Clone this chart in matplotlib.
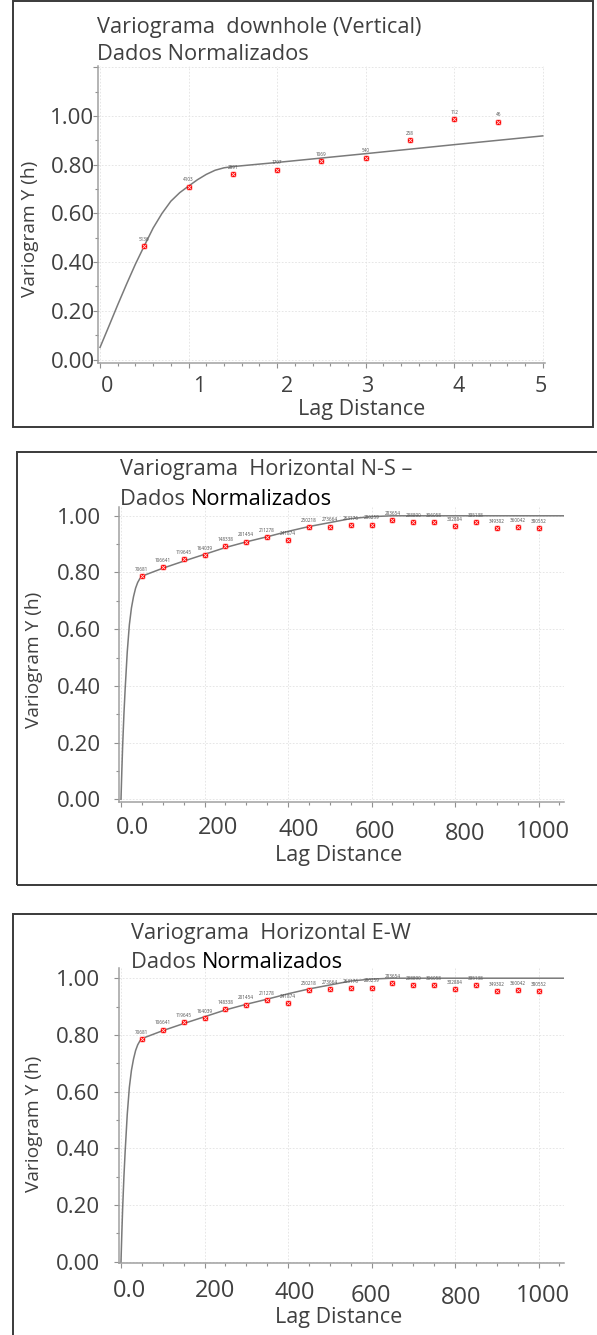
import numpy as np
import matplotlib
matplotlib.use("Agg")
import matplotlib.pyplot as plt
from matplotlib.patches import Rectangle
from matplotlib.ticker import MultipleLocator, FixedLocator
from matplotlib.transforms import ScaledTranslation

plt.rcParams['font.family'] = ['Open Sans', 'DejaVu Sans']

W, H, DPI = 597, 1335, 100
TXT = '#404040'

# ---------------- data ----------------
# downhole (vertical) experimental variogram
v_lag = [0.5, 1.0, 1.5, 2.0, 2.5, 3.0, 3.5, 4.0, 4.5]
v_gamma = [0.467, 0.710, 0.762, 0.780, 0.813, 0.829, 0.900, 0.988, 0.977]
v_pairs = ["5136", "4103", "2891", "1797", "1069", "540", "258", "112", "46"]
# downhole model curve
v_model_lag = [0.0, 0.1, 0.2, 0.3, 0.4, 0.5, 0.6, 0.7, 0.8, 0.9, 1.0, 1.1,
               1.2, 1.3, 1.4, 1.5, 2.0, 3.0, 4.0, 5.0]
v_model_gamma = [0.05, 0.137, 0.225, 0.31, 0.392, 0.467, 0.54, 0.60, 0.65,
                 0.685, 0.712, 0.738, 0.76, 0.777, 0.787, 0.792, 0.809,
                 0.845, 0.882, 0.918]

# horizontal experimental variograms (N-S and E-W)
h_lag = [50, 100, 150, 200, 250, 300, 350, 400, 450, 500,
         550, 600, 650, 700, 750, 800, 850, 900, 950, 1000]
ns_gamma = [0.788, 0.819, 0.846, 0.861, 0.893, 0.909, 0.924, 0.914, 0.960, 0.962,
            0.967, 0.969, 0.984, 0.978, 0.979, 0.965, 0.978, 0.958, 0.961, 0.956]
ew_gamma = [0.786, 0.819, 0.844, 0.860, 0.892, 0.907, 0.922, 0.913, 0.959, 0.961,
            0.966, 0.967, 0.982, 0.975, 0.976, 0.962, 0.975, 0.956, 0.959, 0.955]
h_pairs = ["70681", "106641", "119645", "164039", "148338", "201454", "211278",
           "241874", "250218", "273664", "263176", "280259", "283654", "298890",
           "306058", "332884", "335138", "349302", "360042", "380552"]
# horizontal model curve
h_model_lag = [0, 2, 4, 7, 10, 15, 20, 25, 30, 35, 40, 45, 50, 100, 150, 200,
               250, 300, 350, 400, 450, 500, 550, 600, 650, 1060]
h_model_gamma = [0.0, 0.10, 0.19, 0.30, 0.39, 0.52, 0.615, 0.675, 0.715, 0.745,
                 0.765, 0.778, 0.787, 0.815, 0.84, 0.864, 0.888, 0.908, 0.926,
                 0.945, 0.962, 0.976, 0.99, 0.997, 1.0, 1.0]

v_xticks = [0, 1, 2, 3, 4, 5]
v_xticklabels = ["0", "1", "2", "3", "4", "5"]
h_xticks = [0, 200, 400, 600, 800, 1000]
h_xticklabels = ["0.0", "200", "400", "600", "800", "1000"]
v_yticks = [0.0, 0.2, 0.4, 0.6, 0.8, 1.0, 1.2]
v_yticklabels = ["0.00", "0.20", "0.40", "0.60", "0.80", "1.00", ""]
h_yticks = [0.0, 0.2, 0.4, 0.6, 0.8, 1.0]
h_yticklabels = ["0.00", "0.20", "0.40", "0.60", "0.80", "1.00"]


def rect(left, top, right, bottom):
    return [left / W, 1 - bottom / H, (right - left) / W, (bottom - top) / H]


fig = plt.figure(figsize=(W / DPI, H / DPI), dpi=DPI)
fig.patch.set_facecolor('white')


def panel(box, axrect, xlim, ylim, xticks, xtl, xminor, yticks, ytl,
          lag, gamma, pairs, mlag, mgamma, ypad, xpad, xoffs, yfs, xfs):
    # outer frame
    fig.add_artist(Rectangle((box[0] / W, 1 - box[3] / H),
                             (box[2] - box[0]) / W, (box[3] - box[1]) / H,
                             transform=fig.transFigure, fill=False,
                             ec='#3a3a3a', lw=1.4))
    ax = fig.add_axes(rect(*axrect))
    ax.set_xlim(*xlim)
    ax.set_ylim(*ylim)
    for s in ['top', 'right']:
        ax.spines[s].set_visible(False)
    for s in ['left', 'bottom']:
        ax.spines[s].set_color('#a0a0a0')
        ax.spines[s].set_linewidth(1.1)
    ax.xaxis.set_major_locator(FixedLocator(xticks))
    ax.set_xticklabels(xtl)
    ax.xaxis.set_minor_locator(MultipleLocator(xminor))
    ax.yaxis.set_major_locator(FixedLocator(yticks))
    ax.set_yticklabels(ytl)
    ax.yaxis.set_minor_locator(MultipleLocator(0.1))
    ax.tick_params(which='both', direction='out', color='#909090', width=0.8)
    ax.tick_params(which='major', length=3.5)
    ax.tick_params(which='minor', length=2.2)
    ax.tick_params(axis='y', pad=ypad, labelsize=yfs, labelcolor=TXT)
    ax.tick_params(axis='x', pad=xpad, labelsize=xfs, labelcolor=TXT)
    ax.grid(True, which='major', color='#e2e2e2', ls=(0, (2, 2)), lw=0.6)
    ax.set_axisbelow(True)

    ax.plot(mlag, mgamma, color='#7a7a7a', lw=1.1, zorder=3)
    ax.plot(lag, gamma, ls='', marker='s', ms=3.5, mfc='red', mec='red',
            zorder=4)
    ax.plot(lag, gamma, ls='', marker='x', ms=2.3, mec='#ffd0d0', mew=0.6,
            zorder=5)
    for x, y, t in zip(lag, gamma, pairs):
        ax.annotate(t, (x, y), xytext=(0, 3), textcoords='offset points',
                    ha='center', va='bottom', fontsize=3.3, color='#505050',
                    zorder=6)
    for lbl, (dx, dy) in zip(ax.get_xticklabels(), xoffs):
        lbl.set_transform(lbl.get_transform() +
                          ScaledTranslation(dx / DPI, -dy / DPI,
                                            fig.dpi_scale_trans))
    return ax


T_FS = 15.7
XL_FS = 15.5
YL_FS = 13.8


def title2(x, y, first, second):
    t = fig.text(x / W, 1 - y / H, first, fontsize=T_FS, color=TXT,
                 va='center')
    fig.canvas.draw()
    bb = t.get_window_extent().transformed(fig.transFigure.inverted())
    fig.text(bb.x1, 1 - y / H, second, fontsize=T_FS, color='black',
             va='center')


# ---------------- panel 1: downhole ----------------
panel((13, 1, 593, 427), (98, 65.7, 544.5, 363),
      (-0.023, 5.02), (-0.014, 1.206), v_xticks, v_xticklabels, 0.2,
      v_yticks, v_yticklabels, v_lag, v_gamma, v_pairs,
      v_model_lag, v_model_gamma, -1.0, 5.5,
      [(7, 0), (11, 0), (10, 0), (2, 0), (4, 0), (-1.5, 0)], 16, 15.5)
fig.text(97 / W, 1 - 27 / H, "Variograma  downhole (Vertical)", fontsize=T_FS,
         color=TXT, va='center')
fig.text(97 / W, 1 - 55 / H, "Dados Normalizados", fontsize=T_FS,
         color=TXT, va='center')
fig.text(30 / W, 1 - 229 / H, "Variogram Y (h)", fontsize=YL_FS, color=TXT,
         rotation=90, ha='center', va='center')
fig.text(362 / W, 1 - 409 / H, "Lag Distance", fontsize=XL_FS, color=TXT,
         ha='center', va='center')

# ---------------- panel 2: N-S ----------------
panel((17, 452, 640, 885), (119.2, 507, 563.6, 801.7),
      (-4.3, 1060), (-0.0085, 1.031), h_xticks, h_xticklabels, 50,
      h_yticks, h_yticklabels, h_lag, ns_gamma, h_pairs,
      h_model_lag, h_model_gamma, 9.4, 7.0,
      [(11.5, 0), (13.5, 0), (11, 2), (3.5, 4), (10, 6), (4, 4)], 16, 17)
fig.text(120 / W, 1 - 470 / H, "Variograma  Horizontal N-S \u2013",
         fontsize=T_FS, color=TXT, va='center')
title2(120, 499, "Dados ", "Normalizados")
fig.text(34 / W, 1 - 660 / H, "Variogram Y (h)", fontsize=YL_FS, color=TXT,
         rotation=90, ha='center', va='center')
fig.text(339 / W, 1 - 855 / H, "Lag Distance", fontsize=XL_FS, color=TXT,
         ha='center', va='center')

# ---------------- panel 3: E-W ----------------
panel((13, 914, 640, 1400), (119.2, 968, 563.6, 1263.3),
      (-4.3, 1060), (-0.0056, 1.036), h_xticks, h_xticklabels, 50,
      h_yticks, h_yticklabels, h_lag, ew_gamma, h_pairs,
      h_model_lag, h_model_gamma, 10.0, 7.5,
      [(8.5, 0), (10.5, 0), (7, 2), (-0.5, 5), (6.5, 7), (4, 5)], 16, 17)
fig.text(131 / W, 1 - 933 / H, "Variograma  Horizontal E-W", fontsize=T_FS,
         color=TXT, va='center')
title2(131, 962, "Dados ", "Normalizados")
fig.text(34 / W, 1 - 1124 / H, "Variogram Y (h)", fontsize=YL_FS, color=TXT,
         rotation=90, ha='center', va='center')
fig.text(339 / W, 1 - 1317 / H, "Lag Distance", fontsize=XL_FS, color=TXT,
         ha='center', va='center')

fig.savefig("out.png", dpi=DPI)
